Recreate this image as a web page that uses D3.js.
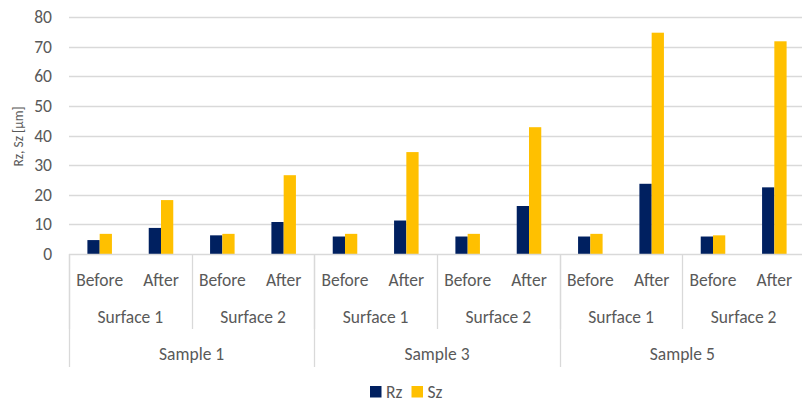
<!DOCTYPE html>
<html>
<head>
<meta charset="utf-8">
<script src="https://cdn.jsdelivr.net/npm/d3@7"></script>
<style>
  html, body { margin: 0; padding: 0; background: #fff; }
  svg { display: block; font-family: Carlito, Lato, "Liberation Sans", sans-serif; }
</style>
</head>
<body>
<svg id="chart" width="802" height="404"></svg>
<script>
// Hierarchical categories: sample > surface > stage
const samples = ["Sample 1", "Sample 3", "Sample 5"];
const surfaces = ["Surface 1", "Surface 2"];
const stages = ["Before", "After"];

// Roughness values in µm, one per (sample, surface, stage)
const rzValues = [4.7, 8.8, 6.3, 10.8, 5.9, 11.3, 5.9, 16.2, 5.9, 23.7, 5.9, 22.5];
const szValues = [6.8, 18.2, 6.8, 26.6, 6.8, 34.4, 6.8, 42.8, 6.8, 74.7, 6.3, 71.8];

const seriesNames = ["Rz", "Sz"];
const seriesColors = ["#002060", "#FFC000"];
const yTicks = [0, 10, 20, 30, 40, 50, 60, 70, 80];
const yTitle = "Rz, Sz [\u03BCm]";

const categories = [];
samples.forEach((s, i) => surfaces.forEach((f, j) => stages.forEach((t, k) => {
  categories.push({ sample: s, surface: f, stage: t, key: `${i}-${j}-${k}` });
})));
const rows = categories.map((c, i) => ({ ...c, Rz: rzValues[i], Sz: szValues[i] }));

const svg = d3.select("#chart");
const plot = { left: 69, right: 805, top: 17, bottom: 254 };
const textColor = "#595959";
const lineColor = "#d9d9d9";

const x = d3.scaleBand().domain(categories.map(c => c.key)).range([plot.left, plot.right]).paddingInner(0).paddingOuter(0);
const xSub = d3.scaleBand().domain(seriesNames).range([0, x.bandwidth()]).paddingInner(0).paddingOuter(1.5);
const y = d3.scaleLinear().domain([0, 80]).range([plot.bottom, plot.top]);

// Horizontal gridlines
svg.append("g")
  .selectAll("line")
  .data(yTicks.filter(v => v > 0))
  .join("line")
  .attr("x1", plot.left).attr("x2", 802)
  .attr("y1", d => Math.round(y(d)) + 0.5).attr("y2", d => Math.round(y(d)) + 0.5)
  .attr("stroke", lineColor).attr("stroke-width", 1.3);

// Y axis labels
const yAxis = svg.append("g")
  .attr("transform", `translate(${plot.left - 17},0)`)
  .call(d3.axisLeft(y).tickValues(yTicks).tickSize(0).tickPadding(0));
yAxis.select(".domain").remove();
yAxis.selectAll("text")
  .attr("fill", textColor)
  .style("font-size", "17.5px")
  .style("font-family", "Carlito, Lato, sans-serif");

// Y axis title
svg.append("text")
  .attr("transform", `translate(22.5,136.5) rotate(-90)`)
  .attr("text-anchor", "middle")
  .attr("fill", textColor)
  .style("font-size", "13.5px")
  .text(yTitle);

// Bars
const groups = svg.append("g")
  .selectAll("g")
  .data(rows)
  .join("g")
  .attr("transform", d => `translate(${x(d.key)},0)`);
groups.selectAll("rect")
  .data(d => seriesNames.map((s, i) => ({ series: s, value: d[s], color: seriesColors[i] })))
  .join("rect")
  .attr("x", d => xSub(d.series))
  .attr("width", xSub.bandwidth())
  .attr("y", d => y(d.value))
  .attr("height", d => y(0) - y(d.value))
  .attr("fill", d => d.color);

// Baseline
svg.append("line")
  .attr("x1", plot.left).attr("x2", 802)
  .attr("y1", plot.bottom + 0.5).attr("y2", plot.bottom + 0.5)
  .attr("stroke", lineColor).attr("stroke-width", 1.3);

// Stage labels (innermost level)
const xAxis = svg.append("g")
  .attr("transform", `translate(0,286)`)
  .call(d3.axisBottom(x).tickSize(0).tickPadding(0).tickFormat(k => categories.find(c => c.key === k).stage));
xAxis.select(".domain").remove();
xAxis.selectAll("text")
  .attr("dy", 0)
  .attr("fill", textColor)
  .style("font-size", "17.5px")
  .style("font-family", "Carlito, Lato, sans-serif");

// Surface labels and separators
const nStage = stages.length;
const surfaceSpans = [];
for (let g = 0; g < samples.length * surfaces.length; g++) {
  const first = categories[g * nStage], last = categories[g * nStage + nStage - 1];
  surfaceSpans.push({ label: first.surface, x0: x(first.key), x1: x(last.key) + x.bandwidth() });
}
svg.append("g").selectAll("text")
  .data(surfaceSpans)
  .join("text")
  .attr("x", d => (d.x0 + d.x1) / 2)
  .attr("y", 323)
  .attr("text-anchor", "middle")
  .attr("fill", textColor)
  .style("font-size", "17.5px")
  .text(d => d.label);
svg.append("g").selectAll("line")
  .data(surfaceSpans)
  .join("line")
  .attr("x1", d => Math.round(d.x0) + 0.5).attr("x2", d => Math.round(d.x0) + 0.5)
  .attr("y1", plot.bottom).attr("y2", 329)
  .attr("stroke", lineColor).attr("stroke-width", 1.3);

// Sample labels and separators
const perSample = surfaces.length * nStage;
const sampleSpans = samples.map((s, i) => ({
  label: s,
  x0: x(categories[i * perSample].key),
  x1: x(categories[i * perSample + perSample - 1].key) + x.bandwidth()
}));
svg.append("g").selectAll("text")
  .data(sampleSpans)
  .join("text")
  .attr("x", d => (d.x0 + d.x1) / 2)
  .attr("y", 360)
  .attr("text-anchor", "middle")
  .attr("fill", textColor)
  .style("font-size", "17.5px")
  .text(d => d.label);
svg.append("g").selectAll("line")
  .data(sampleSpans)
  .join("line")
  .attr("x1", d => Math.round(d.x0) + 0.5).attr("x2", d => Math.round(d.x0) + 0.5)
  .attr("y1", plot.bottom).attr("y2", 367)
  .attr("stroke", lineColor).attr("stroke-width", 1.3);

// Legend
const legendItems = [{ name: "Rz", color: seriesColors[0], x: 370 }, { name: "Sz", color: seriesColors[1], x: 411.5 }];
const legend = svg.append("g").selectAll("g").data(legendItems).join("g")
  .attr("transform", d => `translate(${d.x},386)`);
legend.append("rect").attr("width", 11.5).attr("height", 11.5).attr("fill", d => d.color);
legend.append("text")
  .attr("x", 16).attr("y", 11.5)
  .attr("fill", textColor)
  .style("font-size", "17.5px")
  .text(d => d.name);
</script>
</body>
</html>
